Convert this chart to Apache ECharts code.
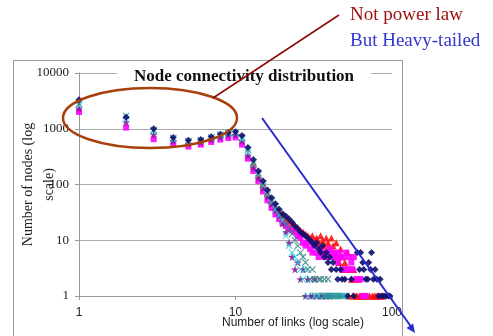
<!DOCTYPE html>
<html><head><meta charset="utf-8">
<script src="https://cdn.jsdelivr.net/npm/echarts@6/dist/echarts.min.js"></script>
<style>html,body{margin:0;padding:0;background:#fff}#c{width:493px;height:336px}</style>
</head><body><div id="c"></div>
<script>
const xTicks = ['1','10','100'];
const yTicks = ['1','10','100','1000','10000'];

const navyPts = [[1,3300],[2,1600],[3,1000],[4,700],[5,620],[6,640],[7,720],[8,800],[9,860],[10,880],[11,760],[12,460],[13,280],[14,175],[15,115],[16,80],[17,58],[18,45],[19,36],[20,30],[21,27],[22,24],[23,21],[24,18],[25,16],[26,14],[27,13],[28,12],[29,11],[30,10],[31,9],[32,8],[33,9],[34,7],[35,6],[36,8],[37,5],[38,6],[39,4],[40,5],[41,3],[42,4],[44,3],[45,2],[47,3],[48,2],[50,2],[52,1],[55,2],[57,1],[60,6],[62,3],[63,6],[65,4],[66,3],[68,2],[70,2],[71,4],[73,3],[74,6],[76,2],[78,3],[80,2],[82,1],[84,2],[86,1],[89,1],[92,1],[95,1],[97,1]];
const magentaPts = [[1,2000],[2,1050],[3,650],[4,520],[5,480],[6,520],[7,580],[8,640],[9,680],[10,700],[11,520],[12,290],[13,175],[14,115],[15,75],[16,52],[17,38],[18,29],[19,24],[20,20],[21,18],[22,16],[23,15],[24,14],[25,12],[26,11],[27,9],[28,8],[29,9],[30,7],[31,6],[32,8],[33,6],[34,5],[35,7],[36,6],[37,5],[38,6],[39,5],[40,7],[41,6],[42,5],[43,6],[44,5],[45,4],[46,6],[47,5],[48,3],[49,5],[50,3],[51,6],[52,3],[53,5],[54,3],[55,4],[56,3],[57,5],[59,2],[61,2],[63,2],[65,1],[68,1]];
const redPts = [[13,240],[14,150],[15,100],[16,70],[17,50],[18,40],[19,33],[20,28],[21,24],[22,22],[23,20],[24,18],[25,17],[26,15],[27,14],[28,13],[29,12],[30,11],[31,12],[32,10],[33,11],[34,9],[35,12],[36,10],[37,8],[38,11],[39,9],[40,7],[41,11],[42,8],[43,6],[44,9],[45,5],[46,4],[47,7],[48,5],[49,3],[50,4],[51,3],[52,6],[53,1],[54,3],[55,2],[56,1],[57,3],[58,2],[59,1],[60,1],[61,2],[62,1],[64,1],[66,1],[67,1],[69,1],[72,1],[75,1],[77,1],[79,1],[81,1],[83,1],[85,1],[87,1]];
const tealPts = [[1,2800],[2,1700],[3,950],[4,680],[5,600],[6,620],[7,700],[8,780],[9,840],[10,860],[11,700],[12,420],[13,250],[14,160],[15,105],[16,72],[17,52],[18,40],[19,32],[20,25],[21,20],[22,16],[23,13],[24,10],[25,8],[26,6],[27,5],[28,4],[29,3],[30,2],[31,3],[32,2],[33,1],[34,2],[35,2],[36,1],[37,2],[38,1],[39,2],[40,1],[42,1],[44,1],[46,1],[48,1]];
const cyanPts = [[1,2600],[2,1500],[3,900],[4,650],[5,580],[6,600],[7,680],[8,760],[9,820],[10,840],[11,650],[12,380],[13,230],[14,150],[15,95],[16,66],[17,48],[18,36],[19,28],[20,22],[21,12],[22,8],[23,6],[24,5],[25,4],[26,3],[27,2],[28,3],[29,1],[30,2],[32,1],[34,1],[37,1],[39,1],[41,1],[43,1],[45,1],[47,1],[49,1],[51,1]];
const purplePts = [[1,2300],[2,1300],[3,780],[4,600],[5,540],[6,570],[7,640],[8,700],[9,760],[10,780],[11,600],[12,330],[13,200],[14,130],[15,85],[16,60],[17,44],[18,34],[19,27],[20,20],[21,14],[22,9],[23,5],[24,3],[25,4],[26,2],[27,3],[28,1],[29,2],[30,1],[31,1],[32,2],[33,1],[35,1],[36,1],[38,1],[40,1]];

const X_PATH = 'path://M1,0 L5,4 L9,0 L10,1 L6,5 L10,9 L9,10 L5,6 L1,10 L0,9 L4,5 L0,1 Z';
const STAR_PATH = 'path://M5,0 L6.2,3.6 L10,3.6 L7,5.9 L8.1,9.5 L5,7.3 L1.9,9.5 L3,5.9 L0,3.6 L3.8,3.6 Z';

function sc(name, data, color, symbol, size){
  return {name, type:'scatter', data, symbol, symbolSize:size, itemStyle:{color, opacity:0.9}, silent:true};
}

const chart = echarts.init(document.getElementById('c'));
chart.setOption({
  animation:false,
  backgroundColor:'#fff',
  title:{text:'Node connectivity distribution', left:117, top:67,
    backgroundColor:'#fff', padding:[1,17,1,17],
    textStyle:{fontFamily:'Liberation Serif', fontWeight:'bold', fontSize:17, color:'#111'}},
  grid:{left:79, right:101, top:73, bottom:40, containLabel:false, outerBoundsMode:'none'},
  xAxis:{type:'log', logBase:10, min:1, max:100,
    axisLine:{show:true, lineStyle:{color:'#999'}},
    axisTick:{show:true, length:4, lineStyle:{color:'#999'}},
    splitLine:{show:false},
    axisLabel:{fontFamily:'Liberation Sans', fontSize:12, color:'#222', margin:11,
      formatter:v=>xTicks[Math.round(Math.log10(v))]},
    name:'Number of links (log scale)', nameLocation:'middle', nameGap:21, nameMoveOverlap:false,
    nameTextStyle:{fontFamily:'Liberation Sans', fontSize:12, color:'#222', padding:[0,0,0,115]}},
  yAxis:{type:'log', logBase:10, min:1, max:10000,
    axisLine:{show:true, lineStyle:{color:'#999'}},
    axisTick:{show:true, length:4, lineStyle:{color:'#999'}},
    splitLine:{show:true, lineStyle:{color:'#aaa', width:1}},
    axisLabel:{fontFamily:'Liberation Serif', fontSize:13, color:'#222', margin:10,
      formatter:v=>yTicks[Math.round(Math.log10(v))]},
    name:'Number of nodes (log\nscale)', nameLocation:'middle', nameGap:19, nameMoveOverlap:false,
    nameTextStyle:{fontFamily:'Liberation Serif', fontSize:14, color:'#222', lineHeight:21}},
  series:[
    sc('red', redPts, '#ff1010', 'triangle', 7),
    sc('magenta', magentaPts, '#ff00ff', 'rect', 6),
    sc('purple', purplePts, '#8a1a9a', STAR_PATH, 8),
    sc('cyan', cyanPts, '#20d0d8', X_PATH, 7),
    sc('teal', tealPts, '#2a8080', X_PATH, 7),
    sc('navy', navyPts, '#101070', 'diamond', 7)
  ],
  graphic:[
    {type:'rect', shape:{x:13.5, y:60.5, width:389, height:300}, style:{fill:'none', stroke:'#999', lineWidth:1}, z:-1},
    {type:'ellipse', shape:{cx:150, cy:118, rx:87, ry:30}, style:{fill:'none', stroke:'#a8400c', lineWidth:2.5}, z:100},
    {type:'line', shape:{x1:339, y1:15, x2:213, y2:98}, style:{stroke:'#8b0a0a', lineWidth:1.5}, z:100},
    {type:'line', shape:{x1:262, y1:118, x2:412, y2:328}, style:{stroke:'#2a2ad0', lineWidth:2}, z:100},
    {type:'polygon', shape:{points:[[415,333],[413.1,323.4],[406.5,328.0]]}, style:{fill:'#2a2ad0'}, z:100},
    {type:'text', left:350, top:6, style:{text:'Not power law', fontFamily:'Liberation Serif', fontSize:19, fill:'#a01010'}, z:100},
    {type:'text', left:350, top:32, style:{text:'But Heavy-tailed', fontFamily:'Liberation Serif', fontSize:19, fill:'#3434d4'}, z:100}
  ]
});
</script></body></html>
